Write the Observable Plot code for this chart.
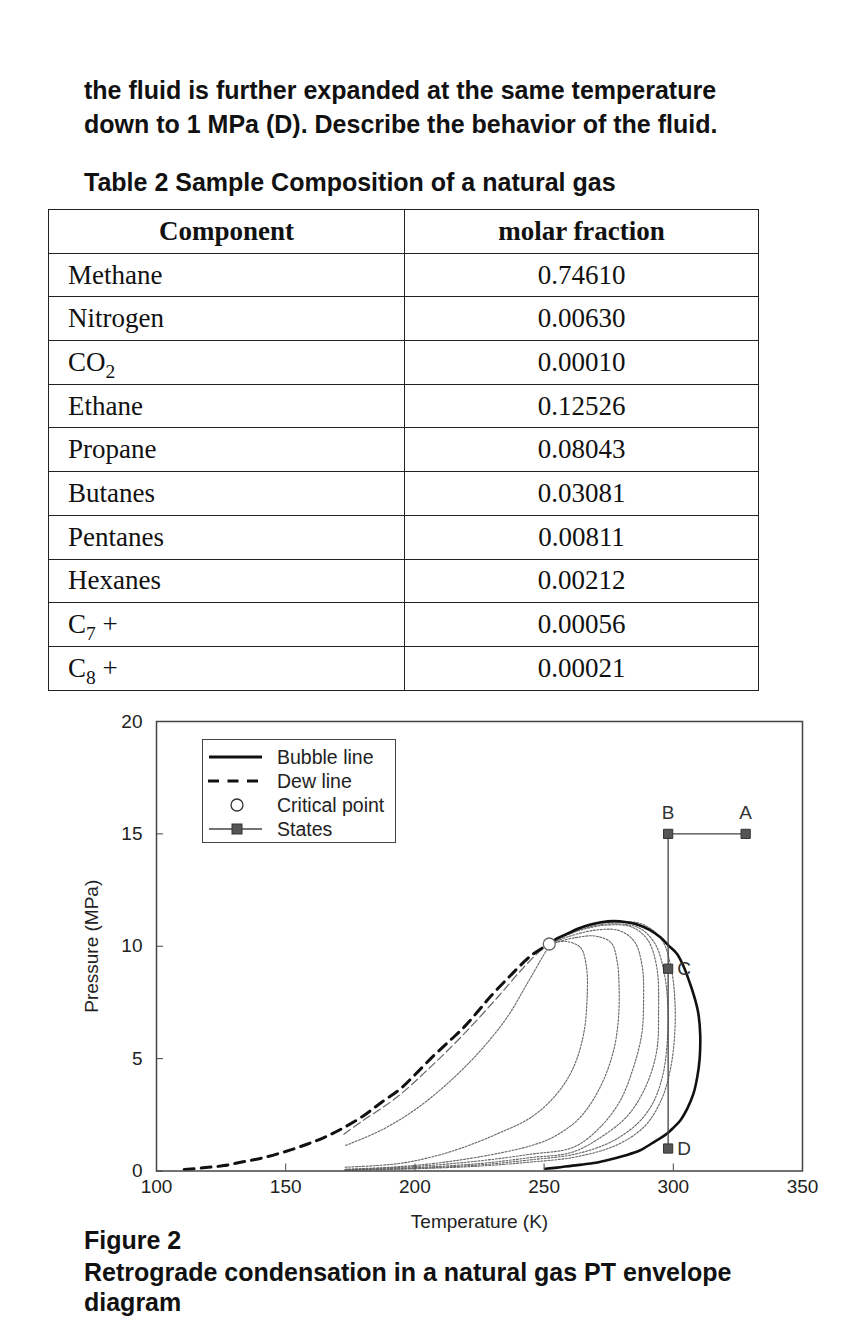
<!DOCTYPE html>
<html>
<head>
<meta charset="utf-8">
<script src="https://cdn.jsdelivr.net/npm/d3@7"></script>
<script src="https://cdn.jsdelivr.net/npm/@observablehq/plot@0.6"></script>
<style>
  html, body { margin: 0; padding: 0; background: #fff; }
  body { width: 841px; height: 1326px; position: relative; overflow: hidden; font-family: "Liberation Sans", Arial, sans-serif; }
  .para { position: absolute; left: 84px; font-weight: bold; font-size: 25px; line-height: 28px; color: #111; white-space: nowrap; }
  #comp { position: absolute; left: 48px; top: 209px; width: 710px; border-collapse: collapse; table-layout: fixed;
          font-family: "Liberation Serif", "Times New Roman", serif; font-size: 27px; color: #111; }
  #comp td, #comp th { border: 1.5px solid #222; height: 43.7px; padding: 0; box-sizing: border-box; line-height: 1; }
  #comp th { font-weight: bold; text-align: center; }
  #comp td.name { padding-left: 19px; text-align: left; }
  #comp td.val { text-align: center; }
  #comp sub { font-size: 0.72em; vertical-align: -0.35em; line-height: 0; }
  #chartWrap { position: absolute; left: 0; top: 700px; width: 841px; height: 540px; }
  #legend { position: absolute; left: 202px; top: 39px; width: 194px; height: 104px; box-sizing: border-box;
            border: 1.5px solid #444; background: #fff; }
</style>
</head>
<body>
<div class="para" style="top:76px">the fluid is further expanded at the same temperature</div>
<div class="para" style="top:110px">down to 1 MPa (D). Describe the behavior of the fluid.</div>
<div class="para" style="top:168px">Table 2 Sample Composition of a natural gas</div>

<table id="comp">
  <colgroup><col style="width:356px"><col style="width:354px"></colgroup>
  <thead><tr><th id="h1"></th><th id="h2"></th></tr></thead>
  <tbody id="rows"></tbody>
</table>

<div id="chartWrap"></div>

<div class="para" style="top:1226px">Figure 2</div>
<div class="para" style="top:1258px">Retrograde condensation in a natural gas PT envelope</div>
<div class="para" style="top:1288px">diagram</div>

<script>
// ---------------- Table data ----------------
const tableHeaders = ["Component", "molar fraction"];
const componentLabels = ["Methane", "Nitrogen", "CO<sub>2</sub>", "Ethane", "Propane", "Butanes",
                         "Pentanes", "Hexanes", "C<sub>7</sub> +", "C<sub>8</sub> +"];
const molarFractions = ["0.74610", "0.00630", "0.00010", "0.12526", "0.08043", "0.03081",
                        "0.00811", "0.00212", "0.00056", "0.00021"];

// ---------------- Chart data (Temperature K, Pressure MPa) ----------------
const xTicks = [100, 150, 200, 250, 300, 350];
const yTicks = [0, 5, 10, 15, 20];

const dewLine = [[110.7,0.07],[118,0.14],[126,0.24],[134,0.42],[142,0.61],[150,0.87],[158,1.18],[165,1.5],
  [172,1.9],[180,2.45],[187,3.05],[194,3.62],[200,4.28],[207,5.1],[214,5.85],[219,6.4],[224,7.05],
  [229,7.73],[237,8.7],[245,9.59],[252,10.1]];

const bubbleLine = [[252,10.1],[255,10.35],[259,10.56],[263,10.78],[268,10.97],[272,11.07],[277,11.12],
  [282,11.07],[286,10.97],[291,10.72],[295,10.4],[298,10.05],[301.4,9.67],[304,9.1],[306.5,8.33],
  [308.5,7.6],[309.7,7.0],[310.4,6.1],[310.2,5.0],[309.3,4.2],[307.8,3.44],[305.5,2.8],[302.7,2.25],
  [300,1.92],[297.5,1.66],[292,1.25],[287,0.91],[281,0.68],[274,0.47],[268,0.33],[261,0.24],
  [255,0.15],[250.5,0.1]];

const qualityDashed = [[172.5,1.64],[180,2.25],[193,3.28],[206,4.62],[219,6.1],[232,7.73],[241,8.92],
  [248.6,9.81],[252,10.1]];

const quality1 = [[173.2,1.14],[186.7,1.8],[199.6,2.69],[212.5,3.88],[225.4,5.36],[235.7,6.84],
  [243.4,8.33],[248.6,9.37],[251.2,9.89],[252,10.1]];
const quality2 = [[173,0.17],[193,0.32],[206,0.61],[219,1.06],[232,1.66],[245,2.39],[255,3.44],
  [261.4,4.62],[265.3,6.1],[266.6,7.59],[266.4,9.07],[264,9.95],[258,10.22],[252,10.1]];
const quality3 = [[173,0.08],[195,0.2],[215,0.45],[235,0.85],[247,1.2],[255,1.6],[264,2.39],[271.7,3.73],
  [276.9,5.36],[278.8,6.84],[279,8.3],[278.3,9.3],[276,10.15],[270,10.45],[262,10.38],[252,10.1]];
const quality4 = [[173,0.06],[200,0.2],[225,0.45],[245,0.75],[261.4,1.06],[271.7,1.95],[279.5,3.14],
  [284.6,4.62],[287.8,6.1],[288.5,7.59],[288,9.07],[285,10.2],[279,10.7],[270,10.72],[260,10.45],[252,10.1]];
const quality5 = [[173,0.05],[200,0.15],[225,0.33],[245,0.6],[261,0.84],[274,1.66],[283,2.55],[289.8,3.88],
  [293.6,5.36],[294.3,7.0],[293.6,9.07],[290,10.3],[284,10.85],[275,10.95],[265,10.75],[258,10.45],[252,10.1]];
const quality6 = [[173,0.04],[200,0.12],[225,0.27],[245,0.5],[262,0.75],[276,1.3],[286,2.1],[292,3.0],
  [296,4.3],[297.8,6.0],[297.8,7.5],[296.5,8.8],[293,10.1],[287,10.8],[278,11.0],[268,10.88],[259,10.52],[252,10.1]];
const quality7 = [[173,0.03],[200,0.1],[225,0.22],[245,0.4],[262,0.62],[278,1.15],[289,2.0],[295.5,3.2],
  [299,4.6],[300.6,6.2],[300.6,7.6],[299.2,9.0],[295.5,10.3],[288,10.98],[278,11.08],[268,10.93],[259,10.55],[252,10.1]];

const criticalPoint = [[252, 10.1]];

const stateNames = ["A", "B", "C", "D"];
const stateT = [328, 298, 298, 298];
const stateP = [15, 15, 9, 1];

// ---------------- Build table ----------------
document.getElementById("h1").textContent = tableHeaders[0];
document.getElementById("h2").textContent = tableHeaders[1];
const tbody = document.getElementById("rows");
componentLabels.forEach((lab, i) => {
  const tr = document.createElement("tr");
  tr.innerHTML = `<td class="name">${lab}</td><td class="val">${molarFractions[i]}</td>`;
  tbody.appendChild(tr);
});

// ---------------- Build chart ----------------
const rows = (pts) => pts.map(([T, P]) => ({T, P}));
const states = stateNames.map((name, i) => ({name, T: stateT[i], P: stateP[i]}));
const dotted = [quality1, quality2, quality3, quality4, quality5, quality6, quality7];

const marks = [];
dotted.forEach(q => marks.push(Plot.line(rows(q), {x: "T", y: "P", curve: "catmull-rom",
  stroke: "#666", strokeWidth: 1.1, strokeDasharray: "2,1.5"})));
marks.push(Plot.line(rows(qualityDashed), {x: "T", y: "P", curve: "catmull-rom",
  stroke: "#666", strokeWidth: 1.2, strokeDasharray: "8,4"}));
marks.push(Plot.line(rows(dewLine), {x: "T", y: "P", curve: "catmull-rom",
  stroke: "#111", strokeWidth: 3, strokeDasharray: "10,7"}));
marks.push(Plot.line(rows(bubbleLine), {x: "T", y: "P", curve: "catmull-rom",
  stroke: "#111", strokeWidth: 2.6}));
marks.push(Plot.line(states, {x: "T", y: "P", stroke: "#444", strokeWidth: 1.3}));
marks.push(Plot.dot(states, {x: "T", y: "P", symbol: "square", r: 5.2, fill: "#555", stroke: "#333", strokeWidth: 1}));
marks.push(Plot.text(states.filter(d => d.name === "A" || d.name === "B"),
  {x: "T", y: "P", text: "name", dy: -21, fill: "#333", fontSize: 19}));
marks.push(Plot.text(states.filter(d => d.name === "C" || d.name === "D"),
  {x: "T", y: "P", text: "name", dx: 9, textAnchor: "start", fill: "#333", fontSize: 19}));
marks.push(Plot.dot(rows(criticalPoint), {x: "T", y: "P", r: 6, fill: "#fff", stroke: "#666", strokeWidth: 1.3}));
marks.push(Plot.frame({stroke: "#444", strokeWidth: 1.5}));
marks.push(Plot.axisX({ticks: xTicks, tickSize: -7, tickPadding: 15, stroke: "#444", fill: "#222",
  label: "Temperature (K)", labelAnchor: "center", labelOffset: 57, labelArrow: "none"}));
marks.push(Plot.axisY({ticks: yTicks, tickSize: -7, tickPadding: 21, stroke: "#444", fill: "#222",
  label: "Pressure (MPa)", labelAnchor: "center", labelOffset: 72, labelArrow: "none"}));

const chart = Plot.plot({
  width: 841,
  height: 540,
  marginTop: 21,
  marginBottom: 69.5,
  marginLeft: 156,
  marginRight: 39,
  style: {fontFamily: "'Liberation Sans', Arial, sans-serif", fontSize: "19px", color: "#222",
          background: "transparent"},
  x: {domain: [100, 350]},
  y: {domain: [0, 20]},
  marks
});
const wrap = document.getElementById("chartWrap");
wrap.appendChild(chart);

// ---------------- Legend (HTML overlay) ----------------
const legendItems = ["Bubble line", "Dew line", "Critical point", "States"];
const ns = "http://www.w3.org/2000/svg";
const leg = document.createElement("div");
leg.id = "legend";
const lsvg = document.createElementNS(ns, "svg");
lsvg.setAttribute("width", 191); lsvg.setAttribute("height", 101);
lsvg.style.display = "block";
const rowY = [17, 41, 65, 89];
function el(tag, attrs) { const e = document.createElementNS(ns, tag); for (const k in attrs) e.setAttribute(k, attrs[k]); lsvg.appendChild(e); return e; }
el("line", {x1: 6, x2: 59, y1: rowY[0], y2: rowY[0], stroke: "#111", "stroke-width": 3});
el("line", {x1: 5, x2: 60, y1: rowY[1], y2: rowY[1], stroke: "#111", "stroke-width": 3, "stroke-dasharray": "11,8.5"});
el("circle", {cx: 34, cy: rowY[2], r: 6, fill: "#fff", stroke: "#333", "stroke-width": 1.3});
el("line", {x1: 6, x2: 59, y1: rowY[3], y2: rowY[3], stroke: "#444", "stroke-width": 1.3});
el("rect", {x: 29, y: rowY[3] - 5, width: 10, height: 10, fill: "#555", stroke: "#333", "stroke-width": 1});
legendItems.forEach((t, i) => {
  const tx = el("text", {x: 74, y: rowY[i], dy: "0.36em", fill: "#222", "font-size": 19.5,
    "font-family": "'Liberation Sans', Arial, sans-serif"});
  tx.textContent = t;
});
leg.appendChild(lsvg);
wrap.appendChild(leg);
</script>
</body>
</html>
